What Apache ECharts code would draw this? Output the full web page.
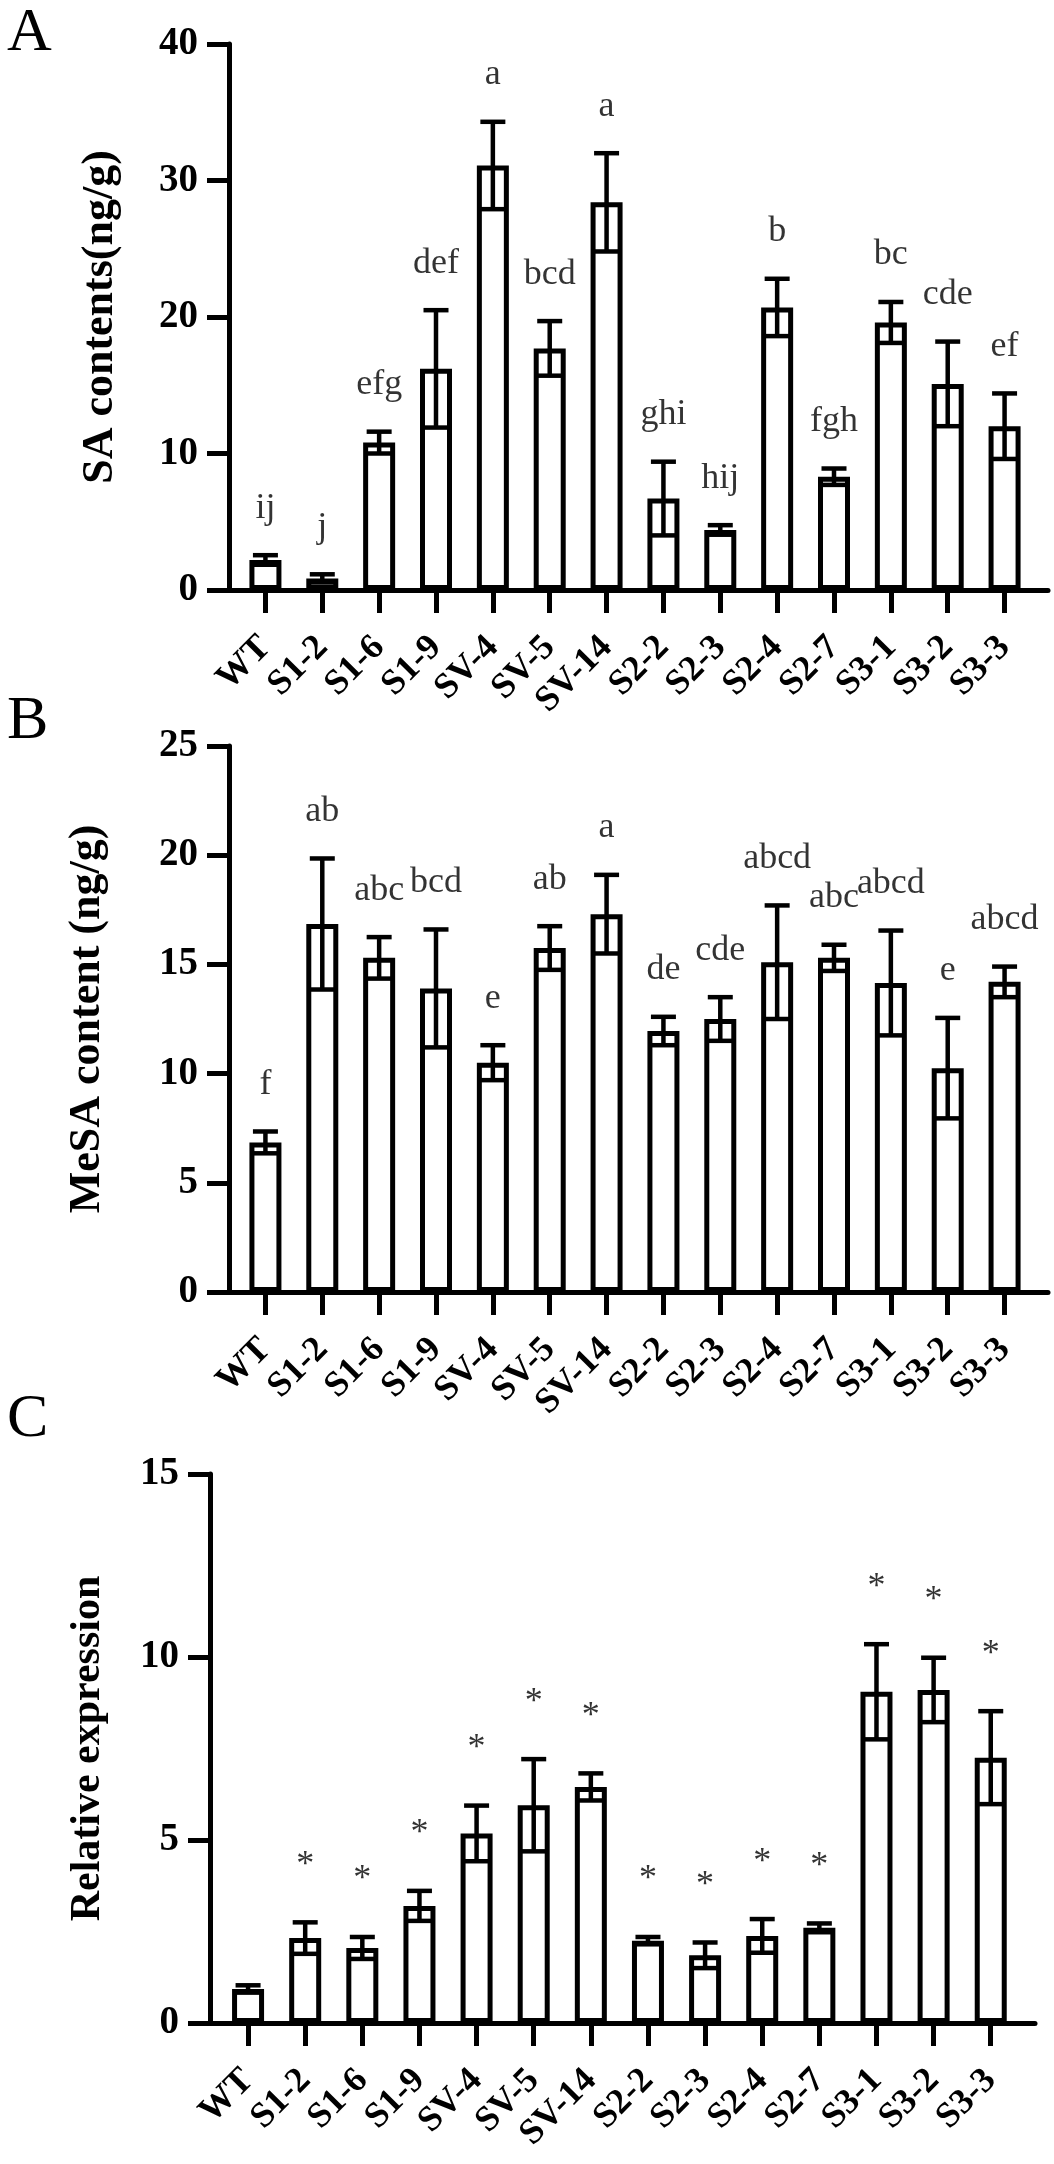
<!DOCTYPE html>
<html>
<head>
<meta charset="utf-8">
<script src="https://cdn.jsdelivr.net/npm/echarts@6/dist/echarts.min.js"></script>
<style>
  html, body { margin: 0; padding: 0; background: #fff; }
  #chart { width: 1054px; height: 2164px; }
</style>
</head>
<body>
<div id="chart"></div>
<script>
// ---------------- data ----------------
const categories = ['WT', 'S1-2', 'S1-6', 'S1-9', 'SV-4', 'SV-5', 'SV-14', 'S2-2', 'S2-3', 'S2-4', 'S2-7', 'S3-1', 'S3-2', 'S3-3'];

const saMean    = [2.2, 0.85, 10.8, 16.2, 31.1, 17.7, 28.4, 6.7, 4.4, 20.7, 8.3, 19.6, 15.1, 12.0];
const saSd      = [0.35, 0.3, 0.8, 4.3, 3.2, 2.0, 3.6, 2.7, 0.35, 2.1, 0.6, 1.5, 3.1, 2.4];
const saLetters = ['ij', 'j', 'efg', 'def', 'a', 'bcd', 'a', 'ghi', 'hij', 'b', 'fgh', 'bc', 'cde', 'ef'];
const saTicks   = [0, 10, 20, 30, 40];

const mesaMean    = [6.85, 16.85, 15.3, 13.9, 10.5, 15.75, 17.3, 11.95, 12.5, 15.1, 15.3, 14.15, 10.25, 14.2];
const mesaSd      = [0.5, 3.0, 0.95, 2.7, 0.8, 1.0, 1.8, 0.65, 1.0, 2.6, 0.6, 2.4, 2.3, 0.7];
const mesaLetters = ['f', 'ab', 'abc', 'bcd', 'e', 'ab', 'a', 'de', 'cde', 'abcd', 'abc', 'abcd', 'e', 'abcd'];
const mesaTicks   = [0, 5, 10, 15, 20, 25];

const exprMean  = [0.93, 2.32, 2.05, 3.2, 5.18, 5.95, 6.45, 2.25, 1.85, 2.38, 2.6, 9.05, 9.1, 7.25];
const exprSd    = [0.1, 0.43, 0.3, 0.41, 0.76, 1.26, 0.37, 0.1, 0.35, 0.46, 0.12, 1.3, 0.88, 1.27];
const exprMarks = ['', '*', '*', '*', '*', '*', '*', '*', '*', '*', '*', '*', '*', '*'];
const exprTicks = [0, 5, 10, 15];

// ---------------- styling ----------------
const FONT = "'Liberation Serif', 'Times New Roman', serif";
const AXIS_W = 5;

const panels = [
  { letter: 'A', title: 'SA contents(ng/g)', mean: saMean, sd: saSd, marks: saLetters, ticks: saTicks,
    frameLeft: 229, frameRight: 6, bandLeft: 237, bandRight: 21, top: 44, height: 546,
    nameGap: 106, nameSize: 44, letterTop: -2, markDist: 29 },
  { letter: 'B', title: 'MeSA content (ng/g)', mean: mesaMean, sd: mesaSd, marks: mesaLetters, ticks: mesaTicks,
    frameLeft: 229, frameRight: 6, bandLeft: 237, bandRight: 21, top: 746, height: 546,
    nameGap: 119, nameSize: 44, letterTop: 686, markDist: 29 },
  { letter: 'C', title: 'Relative expression', mean: exprMean, sd: exprSd, marks: exprMarks, ticks: exprTicks,
    frameLeft: 210, frameRight: 19, bandLeft: 219.5, bandRight: 34.7, top: 1474, height: 549,
    nameGap: 101, nameSize: 42, letterTop: 1384, markDist: 39 }
];

const grid = [], xAxis = [], yAxis = [], series = [], title = [];

panels.forEach((p, k) => {
  const yMax = p.ticks[p.ticks.length - 1];
  const yInt = p.ticks[1] - p.ticks[0];
  const gFrame = 2 * k, gBand = 2 * k + 1;

  title.push({
    text: p.letter, left: 2, top: p.letterTop,
    textStyle: { fontFamily: FONT, fontSize: 62, fontWeight: 'normal', color: '#000' }
  });

  grid.push({ left: p.frameLeft, right: p.frameRight, top: p.top, height: p.height });
  grid.push({ left: p.bandLeft, right: p.bandRight, top: p.top, height: p.height });

  // frame x axis: only the line
  xAxis.push({
    type: 'value', gridIndex: gFrame, min: 0, max: 1,
    axisLine: { show: true, lineStyle: { color: '#000', width: AXIS_W } },
    axisTick: { show: false }, axisLabel: { show: false }, splitLine: { show: false }
  });
  // band x axis: categories, ticks, labels
  xAxis.push({
    type: 'category', gridIndex: gBand, data: categories,
    axisLine: { show: false },
    axisTick: { show: true, alignWithLabel: true, length: 23, lineStyle: { color: '#000', width: 5 } },
    axisLabel: { interval: 0, rotate: 45, margin: 52, color: '#000',
                 fontFamily: FONT, fontSize: 36, fontWeight: 'bold' },
    splitLine: { show: false }
  });

  yAxis.push({
    type: 'value', gridIndex: gFrame, min: 0, max: yMax, interval: yInt,
    name: p.title, nameLocation: 'middle', nameGap: p.nameGap,
    nameTextStyle: { fontFamily: FONT, fontSize: p.nameSize, fontWeight: 'bold', color: '#000' },
    axisLine: { show: true, lineStyle: { color: '#000', width: AXIS_W } },
    axisTick: { show: true, length: 22, lineStyle: { color: '#000', width: 5 } },
    axisLabel: { margin: 31, color: '#000', fontFamily: FONT, fontSize: 39, fontWeight: 'bold' },
    splitLine: { show: false }
  });
  yAxis.push({
    type: 'value', gridIndex: gBand, min: 0, max: yMax, interval: yInt, show: false,
    splitLine: { show: false }
  });

  series.push({
    type: 'bar', xAxisIndex: gBand, yAxisIndex: gBand,
    data: p.mean, barWidth: 32, silent: true,
    itemStyle: { color: '#fff', borderColor: '#000', borderWidth: 5 },
    z: 3
  });

  series.push({
    type: 'custom', xAxisIndex: gBand, yAxisIndex: gBand, silent: true, z: 4,
    data: p.mean.map((m, i) => [i, m, p.sd[i]]),
    renderItem: (params, api) => {
      const i = api.value(0), m = api.value(1), s = api.value(2);
      const top = api.coord([i, m + s]);
      const bot = api.coord([i, m - s]);
      const hw = 12.5;
      const st = { stroke: '#000', lineWidth: 4.5 };
      return {
        type: 'group',
        children: [
          { type: 'line', shape: { x1: top[0], y1: top[1], x2: bot[0], y2: bot[1] }, style: st },
          { type: 'line', shape: { x1: top[0] - hw, y1: top[1], x2: top[0] + hw, y2: top[1] }, style: st },
          { type: 'line', shape: { x1: bot[0] - hw, y1: bot[1], x2: bot[0] + hw, y2: bot[1] }, style: st }
        ]
      };
    }
  });

  series.push({
    type: 'scatter', xAxisIndex: gBand, yAxisIndex: gBand, silent: true, z: 5,
    symbolSize: 0,
    data: p.mean.map((m, i) => [i, m + p.sd[i]]),
    label: {
      show: true, position: 'top', distance: p.markDist,
      formatter: (q) => p.marks[q.dataIndex],
      fontFamily: FONT, fontSize: 36, color: '#000'
    },
    emphasis: { disabled: true }
  });
});

const chart = echarts.init(document.getElementById('chart'), null, { renderer: 'canvas' });
chart.setOption({
  backgroundColor: '#fff',
  animation: false,
  title, grid, xAxis, yAxis, series
});
</script>
</body>
</html>
